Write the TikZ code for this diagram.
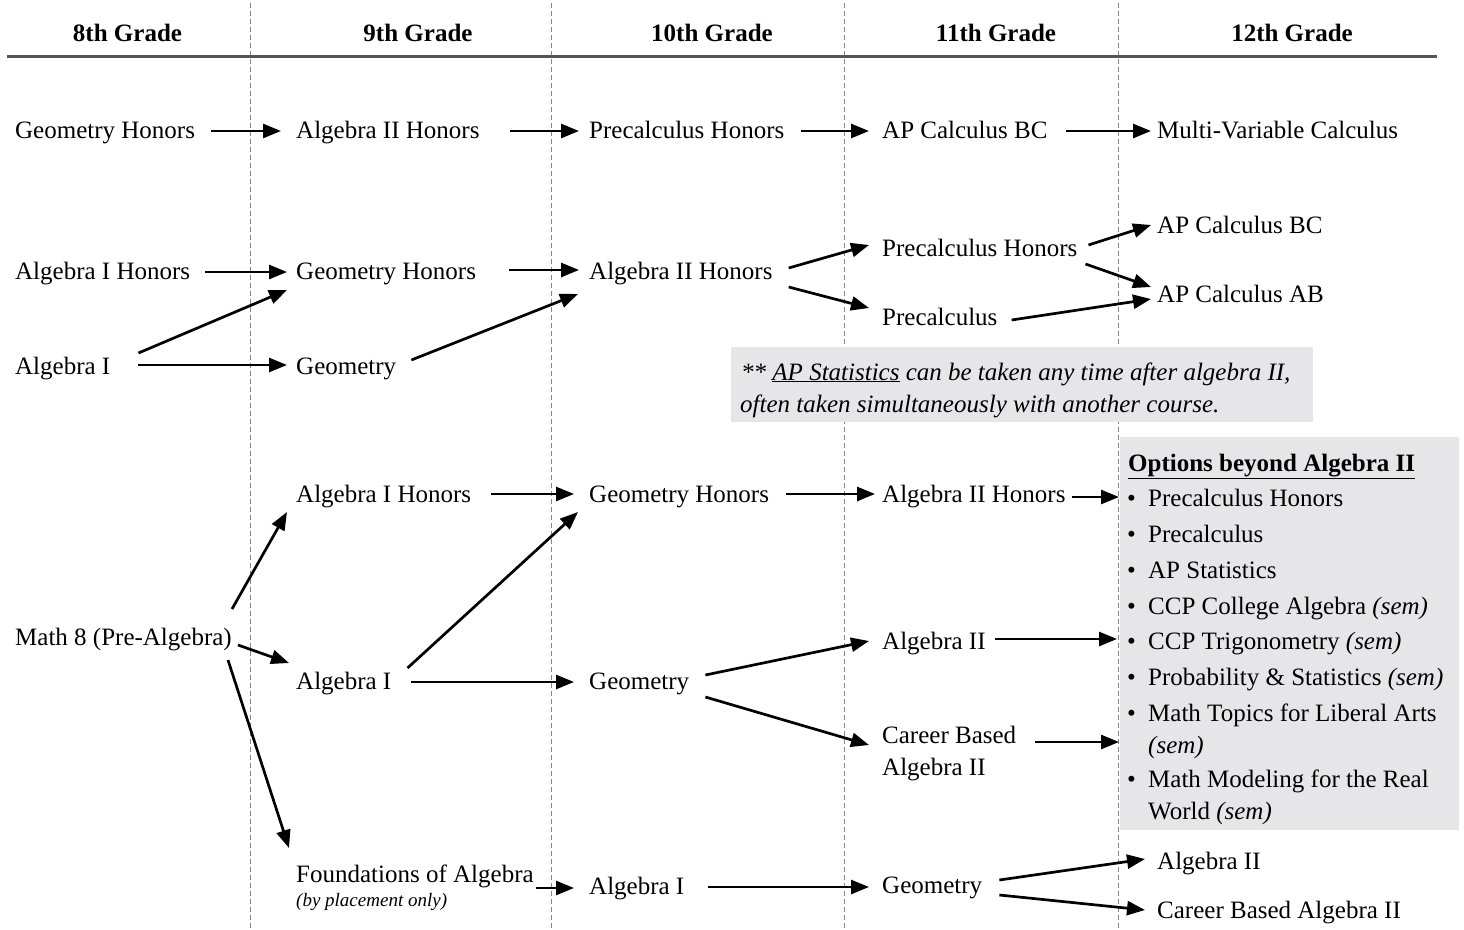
\documentclass[tikz,border=0pt]{standalone}
\usepackage{fontspec}
\setmainfont{Liberation Serif}
\usetikzlibrary{arrows.meta,calc}
\definecolor{boxgray}{RGB}{230,230,232}
\definecolor{rulegray}{RGB}{85,85,85}
\definecolor{dashgray}{RGB}{135,135,135}
\tikzset{
  txt/.style={anchor=west, inner sep=0pt, text height=17pt, text depth=1pt, font=\fontsize{25}{30}\selectfont},
  hdr/.style={anchor=center, inner sep=0pt, text height=17pt, text depth=1pt, font=\fontsize{25}{30}\selectfont\bfseries},
  small/.style={anchor=west, inner sep=0pt, text height=13pt, text depth=0pt, font=\fontsize{19}{22}\selectfont\itshape},
  arr/.style={line width=2.7pt, -{Triangle[length=18pt,width=14pt]}},
  gridline/.style={dashgray, line width=1pt, dash pattern=on 5pt off 3pt},
  graybox/.style={fill=boxgray, draw=none, inner sep=0pt, anchor=north west},
}
\newcommand{\bul}{\makebox[21pt][l]{\textbullet}}
\begin{document}
\begin{tikzpicture}[x=1pt,y=-1pt]
\useasboundingbox (0,0) rectangle (1464,929);
% column separators
\foreach \xx in {250,551,844,1118} \draw[gridline] (\xx,3) -- (\xx,929);
% header
\node[hdr] (h8) at (127.5,33.5) {8th Grade};
\node[hdr] (h9) at (418,33.5) {9th Grade};
\node[hdr] (h10) at (712,33.5) {10th Grade};
\node[hdr] (h11) at (996,33.5) {11th Grade};
\node[hdr] (h12) at (1292,33.5) {12th Grade};
\draw[rulegray, line width=2.8pt] (7,56.5) -- (1437,56.5);
% boxes
\node[graybox, minimum width=582pt, minimum height=75pt] (note) at (731,347) {};
\node[graybox, minimum width=339pt, minimum height=393pt] (opt) at (1120,437) {};
% row 1
\node[txt] (gA) at (15,130) {Geometry Honors};
\node[txt] (aA) at (296,130) {Algebra II Honors};
\node[txt] (pA) at (589,130) {Precalculus Honors};
\node[txt] (cA) at (882,130) {AP Calculus BC};
\node[txt] (mA) at (1157,130) {Multi-Variable Calculus};
% row 2
\node[txt] (aihB) at (15,271) {Algebra I Honors};
\node[txt] (ghB) at (296,271) {Geometry Honors};
\node[txt] (aiihB) at (589,271) {Algebra II Honors};
\node[txt] (pchB) at (882,248) {Precalculus Honors};
\node[txt] (pcB) at (882,317) {Precalculus};
\node[txt] (bcB) at (1157,225) {AP Calculus BC};
\node[txt] (abB) at (1157,294) {AP Calculus AB};
\node[txt] (aiB) at (15,366) {Algebra I};
\node[txt] (gB) at (296,366) {Geometry};
% note
\node[txt, font=\fontsize{25}{30}\selectfont\itshape] (n1) at (741,372) {** \underline{AP Statistics} can be taken any time after algebra II,};
\node[txt, font=\fontsize{25}{30}\selectfont\itshape] (n2) at (740,404) {often taken simultaneously with another course.};
% row 3
\node[txt] (aihC) at (296,494) {Algebra I Honors};
\node[txt] (ghC) at (589,494) {Geometry Honors};
\node[txt] (aiihC) at (882,494) {Algebra II Honors};
\node[txt] (m8C) at (15,637) {Math 8 (Pre-Algebra)};
\node[txt] (aiC) at (296,681) {Algebra I};
\node[txt] (gC) at (589,681) {Geometry};
\node[txt] (aiiC) at (882,641) {Algebra II};
\node[txt] (cbC1) at (882,735) {Career Based};
\node[txt] (cbC2) at (882,767) {Algebra II};
% row 4
\node[txt] (foaD) at (296,874) {Foundations of Algebra};
\node[small] (bpoD) at (296,900) {(by placement only)};
\node[txt] (aiD) at (589,886) {Algebra I};
\node[txt] (gD) at (882,885) {Geometry};
\node[txt] (aiiD) at (1157,861) {Algebra II};
\node[txt] (cbaD) at (1157,910) {Career Based Algebra II};
% options list
\node[txt, font=\fontsize{25}{30}\selectfont\bfseries] (ot) at (1128,463) {\underline{Options beyond Algebra II}};
\node[txt] (it1) at (1127,498) {\bul Precalculus Honors};
\node[txt] (it2) at (1127,534) {\bul Precalculus};
\node[txt] (it3) at (1127,570) {\bul AP Statistics};
\node[txt] (it4) at (1127,606) {\bul CCP College Algebra \textit{(sem)}};
\node[txt] (it5) at (1127,641) {\bul CCP Trigonometry \textit{(sem)}};
\node[txt] (it6) at (1127,677) {\bul Probability \& Statistics \textit{(sem)}};
\node[txt] (it7) at (1127,713) {\bul Math Topics for Liberal Arts};
\node[txt] (it7b) at (1148,745) {\textit{(sem)}};
\node[txt] (it8) at (1127,779) {\bul Math Modeling for the Real};
\node[txt] (it8b) at (1148,811) {World \textit{(sem)}};
% arrows row 1
\draw[arr] ([shift={(16,1)}]gA.east) -- ([shift={(-15,1)}]aA.west);
\draw[arr] ([shift={(30,1)}]aA.east) -- ([shift={(-10,1)}]pA.west);
\draw[arr] ([shift={(16,1)}]pA.east) -- ([shift={(-13,1)}]cA.west);
\draw[arr] ([shift={(18,1)}]cA.east) -- ([shift={(-6,1)}]mA.west);
% arrows row 2
\draw[arr] ([shift={(15,1)}]aihB.east) -- ([shift={(-9,1)}]ghB.west);
\draw[arr] ([shift={(33,-1)}]ghB.east) -- ([shift={(-10,-1)}]aiihB.west);
\draw[arr] ([shift={(28,-13)}]aiB.east) -- ([shift={(-9,19)}]ghB.west);
\draw[arr] ([shift={(28,-1)}]aiB.east) -- ([shift={(-9,-1)}]gB.west);
\draw[arr] ([shift={(15,-6)}]gB.east) -- ([shift={(-11,23)}]aiihB.west);
\draw[arr] ([shift={(16,-3)}]aiihB.east) -- ([shift={(-13,-3)}]pchB.west);
\draw[arr] ([shift={(16,16)}]aiihB.east) -- ([shift={(-13,-9)}]pcB.west);
\draw[arr] ([shift={(11,-3)}]pchB.east) -- ([shift={(-6,0)}]bcB.west);
\draw[arr] ([shift={(8,16)}]pchB.east) -- ([shift={(-6,-7)}]abB.west);
\draw[arr] ([shift={(14,3)}]pcB.east) -- ([shift={(-6,5)}]abB.west);
% arrows row 3
\draw[arr] ([shift={(20,0)}]aihC.east) -- ([shift={(-15,0)}]ghC.west);
\draw[arr] ([shift={(17,0)}]ghC.east) -- ([shift={(-7,0)}]aiihC.west);
\draw[arr] ([shift={(6,3)}]aiihC.east) -- ($(opt.west |- it1.west)+(-1,-1)$);
\draw[arr] ([shift={(0,-28)}]m8C.east) -- ([shift={(-9,18)}]aihC.west);
\draw[arr] ([shift={(6,8)}]m8C.east) -- ([shift={(-7,-18)}]aiC.west);
\draw[arr] ([shift={(-4,23)}]m8C.east) -- ([shift={(-7,-26)}]foaD.west);
\draw[arr] ([shift={(16,-13)}]aiC.east) -- ([shift={(-11,18)}]ghC.west);
\draw[arr] ([shift={(20,1)}]aiC.east) -- ([shift={(-15,1)}]gC.west);
\draw[arr] ([shift={(16,-6)}]gC.east) -- ([shift={(-13,0)}]aiiC.west);
\draw[arr] ([shift={(16,16)}]gC.east) -- ([shift={(-13,10)}]cbC1.west);
\draw[arr] ([shift={(9,-2)}]aiiC.east) -- ($(opt.west |- it5.west)+(-3,-2)$);
\draw[arr] ([shift={(19,7)}]cbC1.east) -- ($(opt.west |- cbC1.east)+(-1,7)$);
% arrows row 4
\draw[arr] ([shift={(2,14)}]foaD.east) -- ([shift={(-15,2)}]aiD.west);
\draw[arr] ([shift={(23,1)}]aiD.east) -- ([shift={(-13,2)}]gD.west);
\draw[arr] ([shift={(17,-5)}]gD.east) -- ([shift={(-12,-2)}]aiiD.west);
\draw[arr] ([shift={(17,10)}]gD.east) -- ([shift={(-12,0)}]cbaD.west);
\end{tikzpicture}
\end{document}
